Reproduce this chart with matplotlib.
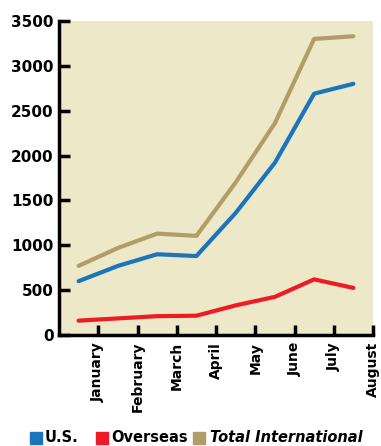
import numpy as np
import matplotlib.pyplot as plt
from matplotlib.patches import Rectangle

months = ["January", "February", "March", "April", "May", "June", "July", "August"]
us = [600, 770, 900, 880, 1360, 1920, 2690, 2800]
overseas = [160, 185, 210, 215, 330, 425, 620, 525]
total_intl = [770, 970, 1130, 1105, 1700, 2360, 3300, 3330]

c_us = "#1b75bb"
c_ov = "#ed1c24"
c_tot = "#b09d68"
bg = "#ede8c8"

plt.rcParams["font.family"] = "DejaVu Sans"
plt.rcParams["font.weight"] = "bold"

fig = plt.figure(figsize=(3.81, 4.46), dpi=100)
ax = fig.add_axes([59 / 381, 1 - 335 / 446, 314 / 381, 314 / 446])
ax.set_facecolor(bg)

# data sit midway between month ticks
x = np.arange(len(months)) + 0.5
ax.plot(x, total_intl, color=c_tot, lw=3.0, solid_capstyle="round")
ax.plot(x, us, color=c_us, lw=3.0, solid_capstyle="round")
ax.plot(x, overseas, color=c_ov, lw=3.0, solid_capstyle="round")

ax.set_xlim(0, len(months))
ax.set_ylim(0, 3500)
ax.set_yticks(range(0, 3501, 500))
ax.set_xticks(np.arange(1, len(months) + 1))
ax.set_xticklabels(months, rotation=90, fontsize=10, fontweight="bold")
ax.tick_params(axis="y", labelsize=11, direction="in", length=8, width=2.5, pad=4)
ax.tick_params(axis="x", direction="in", length=7, width=2.5, pad=5)
for lab in ax.get_yticklabels():
    lab.set_fontweight("bold")

for s in ["top", "right"]:
    ax.spines[s].set_visible(False)
for s in ["left", "bottom"]:
    ax.spines[s].set_linewidth(2.5)

# legend drawn by hand along the bottom
W, H = 381, 446
items = [(30, c_us, "U.S.", 45, "normal"),
         (96, c_ov, "Overseas", 111, "normal"),
         (193, c_tot, "Total International", 210, "italic")]
for sx, col, txt, tx, style in items:
    fig.patches.append(Rectangle((sx / W, 1 - 444 / H), 12 / W, 12 / H,
                                 transform=fig.transFigure, color=col))
    fig.text(tx / W, 1 - 438 / H, txt, fontsize=10.5, fontweight="bold",
             style=style, va="center", ha="left")

fig.savefig("out.png", dpi=100)
